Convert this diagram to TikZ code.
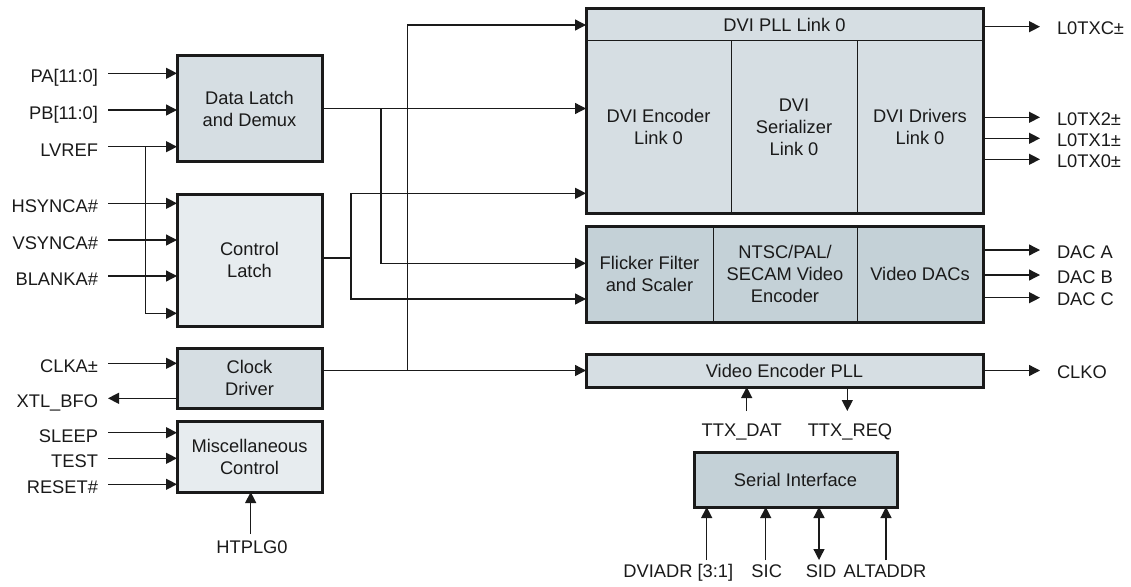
\documentclass[tikz,border=0pt]{standalone}
\usepackage{fontspec}
\setmainfont{Liberation Sans}
\usetikzlibrary{arrows.meta,calc}
\definecolor{fillA}{HTML}{D6DEE3}
\definecolor{fillB}{HTML}{E7ECEF}
\definecolor{fillC}{HTML}{C4D1D7}
\definecolor{ink}{HTML}{1A1A1A}
\begin{document}
\begin{tikzpicture}[x=1pt,y=-1pt,
  every node/.style={font=\fontsize{18.3}{22}\selectfont,text=ink},
  box/.style={draw=ink,line width=3pt,inner sep=0pt,outer sep=0pt,align=center},
  sub/.style={draw=ink,line width=1pt,inner sep=0pt,outer sep=0pt,align=center},
  conn/.style={draw=ink,line width=1.3pt},
  arr/.style={conn,-{Triangle[length=11pt,width=11pt]}},
  darr/.style={conn,{Triangle[length=11pt,width=11pt]}-{Triangle[length=11pt,width=11pt]}},
  lin/.style={inner sep=0pt,outer ysep=0pt,outer xsep=10pt,text height=19pt,text depth=0pt,anchor=east},
  lout/.style={inner sep=0pt,outer ysep=0pt,outer xsep=17pt,text height=16pt,text depth=0pt,anchor=west},
  lbot/.style={inner sep=0pt,outer xsep=0pt,text height=13.1pt,text depth=0pt,anchor=north}]
\useasboundingbox (0,0) rectangle (1131,586);

% left blocks
\node[box,fill=fillA,minimum width=145pt,minimum height=105pt] (dl) at (249.5,108.5) {Data Latch\\and Demux};
\node[box,fill=fillB,minimum width=145pt,minimum height=132pt] (cl) at (249.5,260) {Control\\Latch};
\node[box,fill=fillA,minimum width=145pt,minimum height=60pt] (cd) at (249.5,378) {Clock\\Driver};
\node[box,fill=fillB,minimum width=145pt,minimum height=71pt] (mc) at (249.5,456.5) {Miscellaneous\\Control};

% DVI group
\node[sub,fill=fillA,minimum width=397pt,minimum height=32pt] (pll) at (784.5,25) {DVI PLL Link 0};
\node[sub,fill=fillA,minimum width=145pt,minimum height=172pt] (enc) at (658.5,127) {DVI Encoder\\Link 0};
\node[sub,fill=fillA,minimum width=126pt,minimum height=172pt] (ser) at (794,127) {DVI\\Serializer\\Link 0};
\node[sub,fill=fillA,minimum width=126pt,minimum height=172pt] (drv) at (920,127) {DVI Drivers\\Link 0};
\draw[draw=ink,line width=3pt] (pll.north west) rectangle (drv.south east);

% video group
\node[sub,fill=fillC,minimum width=127pt,minimum height=96pt] (ff) at (649.5,274) {Flicker Filter\\and Scaler};
\node[sub,fill=fillC,minimum width=144pt,minimum height=96pt] (ntsc) at (785,274) {NTSC/PAL/\\SECAM Video\\Encoder};
\node[sub,fill=fillC,minimum width=126pt,minimum height=96pt] (dacs) at (920,274) {Video DACs};
\draw[draw=ink,line width=3pt] (ff.north west) rectangle (dacs.south east);

\node[box,fill=fillA,minimum width=397pt,minimum height=33pt] (vpll) at (784.5,370.5) {Video Encoder PLL};
\node[box,fill=fillC,minimum width=203pt,minimum height=55pt] (si) at (795.5,479.5) {Serial Interface};

% left inputs
\node[lin] (pa) at (108,73.3) {PA[11:0]};
\node[lin] (pb) at (108,110) {PB[11:0]};
\node[lin] (lvref) at (108,146.7) {LVREF};
\node[lin] (hs) at (108,203.3) {HSYNCA\#};
\node[lin] (vs) at (108,240) {VSYNCA\#};
\node[lin] (bl) at (108,276) {BLANKA\#};
\node[lin] (clka) at (108,363.3) {CLKA±};
\node[lin] (xtl) at (108,398.3) {XTL\_BFO};
\node[lin] (slp) at (108,432.7) {SLEEP};
\node[lin] (tst) at (108,458.3) {TEST};
\node[lin] (rst) at (108,484.3) {RESET\#};

\draw[arr] (pa.east) -- (pa.east -| dl.west);
\draw[arr] (pb.east) -- (pb.east -| dl.west);
\draw[arr] (lvref.east) -- (lvref.east -| dl.west);
\coordinate (lvj) at (145.7,146.7);
\draw[arr] (lvj) |- ([yshift=-53.3pt]cl.west);
\draw[arr] (hs.east) -- (hs.east -| cl.west);
\draw[arr] (vs.east) -- (vs.east -| cl.west);
\draw[arr] (bl.east) -- (bl.east -| cl.west);
\draw[arr] (clka.east) -- (clka.east -| cd.west);
\draw[arr] (xtl.east -| cd.west) -- (xtl.east);
\draw[arr] (slp.east) -- (slp.east -| mc.west);
\draw[arr] (tst.east) -- (tst.east -| mc.west);
\draw[arr] (rst.east) -- (rst.east -| mc.west);

\node[lbot,outer ysep=6.7pt] (htp) at (252,534) {HTPLG0};
\draw[arr] ([xshift=-1.3pt]htp.north) -- ([xshift=-1.3pt]htp.north |- mc.south);

% internal wiring
\draw[arr] (dl.east) -- (dl.east -| enc.west);
\coordinate (dj) at (381,108.5);
\draw[arr] (dj) |- ([yshift=10.7pt]ff.west);

\coordinate (cj) at (351,258);
\draw[conn] ([yshift=2pt]cl.east) -- (cj);
\draw[arr] (cj) |- ([yshift=-66.3pt]enc.west);
\draw[arr] (cj) |- ([yshift=-25pt]ff.west);

\coordinate (ckj) at (407.7,370.5);
\draw[arr] ([yshift=7.5pt]cd.east) -- (vpll.west);
\draw[arr] (ckj) |- (pll.west);

% right outputs
\node[lout] (ltc) at (1040,26.7) {L0TXC±};
\node[lout] (lt2) at (1040,117.3) {L0TX2±};
\node[lout] (lt1) at (1040,138.3) {L0TX1±};
\node[lout] (lt0) at (1040,159.3) {L0TX0±};
\node[lout] (daca) at (1040,250) {DAC A};
\node[lout] (dacb) at (1040,275) {DAC B};
\node[lout] (dacc) at (1040,297.7) {DAC C};
\node[lout] (clko) at (1040,370.5) {CLKO};

\draw[arr] (ltc.west -| pll.east) -- (ltc.west);
\draw[arr] (lt2.west -| drv.east) -- (lt2.west);
\draw[arr] (lt1.west -| drv.east) -- (lt1.west);
\draw[arr] (lt0.west -| drv.east) -- (lt0.west);
\draw[arr] (daca.west -| dacs.east) -- (daca.west);
\draw[arr] (dacb.west -| dacs.east) -- (dacb.west);
\draw[arr] (dacc.west -| dacs.east) -- (dacc.west);
\draw[arr] (clko.west -| vpll.east) -- (clko.west);

% TTX
\node[lbot,outer ysep=12pt] (tdat) at (741.7,411) {TTX\_DAT};
\node[lbot,outer ysep=12pt] (treq) at (850,411) {TTX\_REQ};
\draw[arr] ([xshift=5pt]tdat.north) -- ([xshift=5pt]tdat.north |- vpll.south);
\draw[arr] ([xshift=-2.7pt]treq.north |- vpll.south) -- ([xshift=-2.7pt]treq.north);

% serial interface pins
\node[lbot,outer ysep=4pt] (dva) at (678.3,560) {DVIADR [3:1]};
\node[lbot,outer ysep=4pt] (sic) at (766.7,560) {SIC};
\node[lbot,outer ysep=4pt] (sid) at (821,560) {SID};
\node[lbot,outer ysep=4pt] (alt) at (885,560) {ALTADDR};
\draw[arr] ([xshift=28.4pt]dva.north) -- ([xshift=28.4pt]dva.north |- si.south);
\draw[arr] ([xshift=-1pt]sic.north) -- ([xshift=-1pt]sic.north |- si.south);
\draw[darr] ([xshift=-2pt]sid.north) -- ([xshift=-2pt]sid.north |- si.south);
\draw[arr] ([xshift=1pt]alt.north) -- ([xshift=1pt]alt.north |- si.south);
\end{tikzpicture}
\end{document}
